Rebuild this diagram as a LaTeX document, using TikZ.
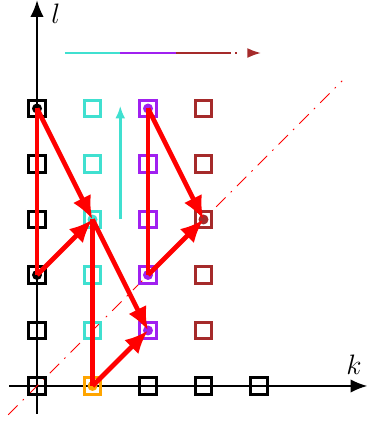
\documentclass[tikz,border=0pt]{standalone}
\usetikzlibrary{positioning, arrows.meta}
\definecolor{turq}{RGB}{64,224,208}
\definecolor{purp}{RGB}{160,32,240}
\definecolor{brwn}{RGB}{165,42,42}
\definecolor{orng}{RGB}{255,165,0}

\begin{document}
\begin{tikzpicture}[>={Latex[length=3mm, width=2.4mm]}, line width=0.8pt,
		cell/.style={draw, rectangle, line width=1.5pt, minimum size=0.3cm, inner sep=0pt},
		jump/.style={red, line width=2.4pt, -{Latex[length=4.2mm, width=3.6mm]}},
		walk/.style={red, line width=2.4pt}]
		\useasboundingbox (-0.667,-0.631) rectangle (5.946,6.955);
		
		% axes
		\coordinate (kfrom) at (-0.5,0);
		\coordinate (kto) at (5.95,0);
		\coordinate (lfrom) at (0,-0.5);
		\coordinate (lto) at (0,6.95);
		\draw [->] (kfrom) -- (kto);
		\draw [->] (lfrom) -- (lto);
		\node [font=\fontsize{13.3}{16}\selectfont] (klabel) at (5.71,0.38) {$k$};
		\node [font=\fontsize{13.3}{16}\selectfont] (llabel) at (0.34,6.70) {$l$};
		
		% diagonal
		\coordinate (dfrom) at (-0.52,-0.52);
		\coordinate (dto) at (5.5,5.5);
		\draw [red, line width=0.5pt, dash pattern=on 2.4mm off 1.3mm on 0.3mm off 1.3mm] (dfrom) -- (dto);
		
		% cells
		\node [cell, black] (k0l0) at (0,0) {};
		\node [cell, black] (k0l1) at (0,1) {};
		\node [cell, black] (k0l2) at (0,2) {};
		\node [cell, black] (k0l3) at (0,3) {};
		\node [cell, black] (k0l4) at (0,4) {};
		\node [cell, black] (k0l5) at (0,5) {};
		\node [cell, orng] (k1l0) at (1,0) {};
		\node [cell, turq] (k1l1) at (1,1) {};
		\node [cell, turq] (k1l2) at (1,2) {};
		\node [cell, turq] (k1l3) at (1,3) {};
		\node [cell, turq] (k1l4) at (1,4) {};
		\node [cell, turq] (k1l5) at (1,5) {};
		\node [cell, black] (k2l0) at (2,0) {};
		\node [cell, purp] (k2l1) at (2,1) {};
		\node [cell, purp] (k2l2) at (2,2) {};
		\node [cell, purp] (k2l3) at (2,3) {};
		\node [cell, purp] (k2l4) at (2,4) {};
		\node [cell, purp] (k2l5) at (2,5) {};
		\node [cell, black] (k3l0) at (3,0) {};
		\node [cell, brwn] (k3l1) at (3,1) {};
		\node [cell, brwn] (k3l2) at (3,2) {};
		\node [cell, brwn] (k3l3) at (3,3) {};
		\node [cell, brwn] (k3l4) at (3,4) {};
		\node [cell, brwn] (k3l5) at (3,5) {};
		\node [cell, black] (k4l0) at (4,0) {};
		
		% visited points
		\fill [black] (k0l5.center) circle (0.09);
		\fill [black] (k0l2.center) circle (0.09);
		\fill [turq] (k1l3.center) circle (0.09);
		\fill [orng] (k1l0.center) circle (0.09);
		\fill [purp] (k2l5.center) circle (0.09);
		\fill [purp] (k2l2.center) circle (0.09);
		\fill [purp] (k2l1.center) circle (0.09);
		\fill [brwn] (k3l3.center) circle (0.09);
		
		% direction hints
		\coordinate (up0) at (1.5,3.0);
		\coordinate (up1) at (1.5,5.05);
		\draw [turq, line width=1.4pt, -{Latex[length=2.3mm, width=1.8mm]}] (up0) -- (up1);
		\coordinate (h0) at (0.5,6);
		\coordinate (h1) at (1.5,6);
		\coordinate (h2) at (2.5,6);
		\coordinate (h3) at (3.5,6);
		\coordinate (h4) at (4.04,6);
		\draw [turq, line width=1.2pt] (h0) -- (h1);
		\draw [purp, line width=1.2pt] (h1) -- (h2);
		\draw [brwn, line width=1.2pt] (h2) -- (h3);
		\draw [brwn, line width=1.2pt, dash pattern=on 0pt off 0.7mm on 0.4mm off 4mm, -{Latex[length=2.5mm, width=1.8mm]}] (h3) -- (h4);
		
		% steps
		\draw [walk] (k0l5.center) -- (k0l2.center);
		\draw [jump] (k0l5.center) -- (k1l3.center);
		\draw [jump] (k0l2.center) -- (k1l3.center);
		\draw [walk] (k1l3.center) -- (k1l0.center);
		\draw [jump] (k1l3.center) -- (k2l1.center);
		\draw [jump] (k1l0.center) -- (k2l1.center);
		\draw [walk] (k2l5.center) -- (k2l2.center);
		\draw [jump] (k2l5.center) -- (k3l3.center);
		\draw [jump] (k2l2.center) -- (k3l3.center);
	\end{tikzpicture}
\end{document}
